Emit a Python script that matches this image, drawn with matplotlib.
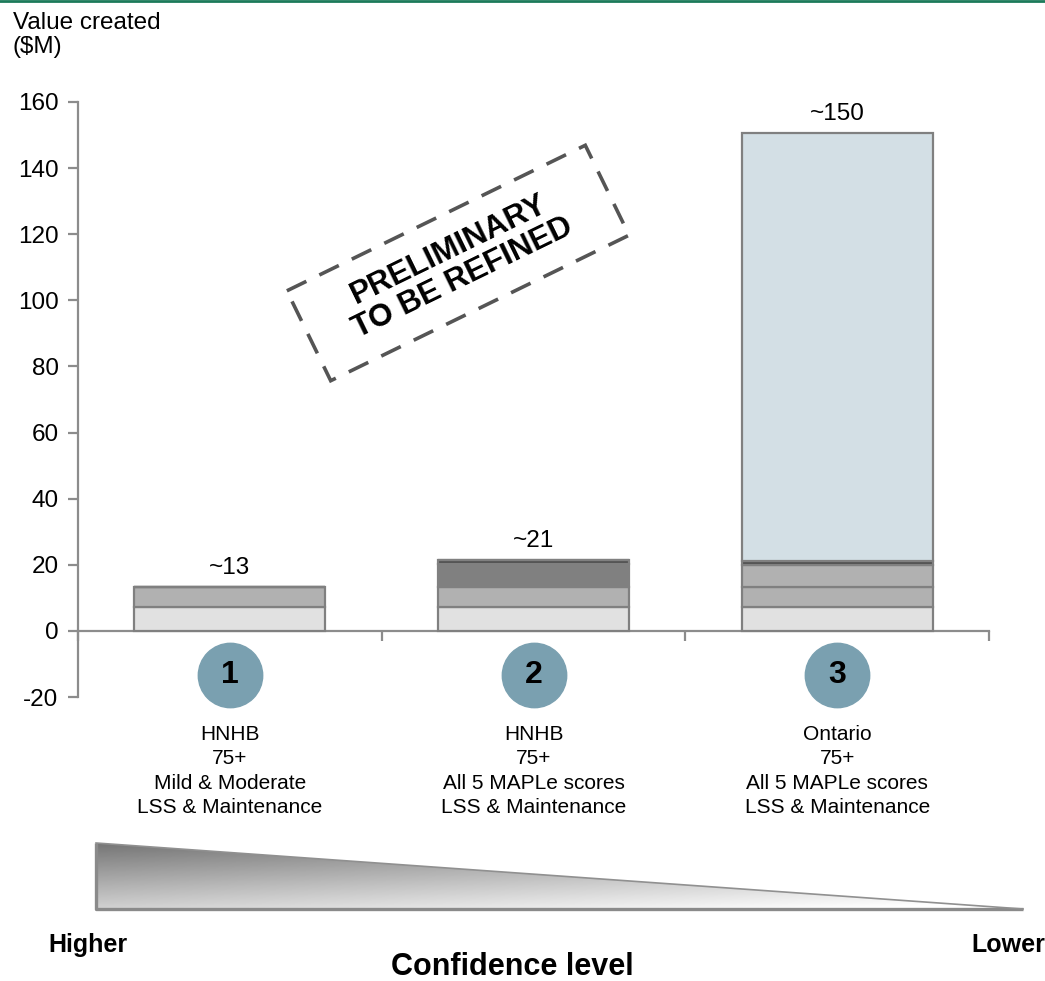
import numpy as np
import matplotlib
matplotlib.use("Agg")
import matplotlib.pyplot as plt
from matplotlib.patches import Polygon
from matplotlib.lines import Line2D

plt.rcParams["font.family"] = ["Liberation Sans", "DejaVu Sans"]
plt.rcParams["axes.unicode_minus"] = False

# ── data ─────────────────────────────────────────────
categories = ["1", "2", "3"]
cat_labels = [
    "HNHB\n75+\nMild & Moderate\nLSS & Maintenance",
    "HNHB\n75+\nAll 5 MAPLe scores\nLSS & Maintenance",
    "Ontario\n75+\nAll 5 MAPLe scores\nLSS & Maintenance",
]
seg_base = [7.2, 7.2, 7.2]
seg_second = [6.1, 6.0, 6.0]
seg_third = [0.0, 7.0, 6.6]
seg_dark = [0.0, 1.2, 1.2]
seg_rest = [0.0, 0.0, 129.6]
value_labels = ["~13", "~21", "~150"]

yticks = [-20, 0, 20, 40, 60, 80, 100, 120, 140, 160]

# ── colours ──────────────────────────────────────────
EDGE = "#808080"
C_BASE = "#e1e1e1"
C_SECOND = "#b1b1b1"
C_THIRD = ["#b1b1b1", "#808080", "#b1b1b1"]
C_DARK = "#505050"
C_REST = "#d3dfe5"
C_CIRCLE = "#7aa0b0"

W, H = 1045, 981
fig = plt.figure(figsize=(W / 100, H / 100), dpi=100)

ax = fig.add_axes([78 / W, 1 - 697 / H, (989 - 78) / W, 595 / H])
x = np.arange(len(categories))
bw = 0.63

bottom = np.zeros(len(x))
for vals, col in [(seg_base, C_BASE), (seg_second, C_SECOND),
                  (seg_third, C_THIRD), (seg_dark, C_DARK), (seg_rest, C_REST)]:
    vals = np.array(vals)
    ax.bar(x, vals, bw, bottom=bottom, color=col, edgecolor=EDGE,
           linewidth=1.6, zorder=3)
    bottom = bottom + vals

totals = bottom
for xi, tot, lab in zip(x, totals, value_labels):
    ax.annotate(lab, (xi, tot), xytext=(0, 6), textcoords="offset points",
                ha="center", va="bottom", fontsize=17.5)

# numbered circles + category text
ax.scatter(x, [-13.3] * len(x), s=2150, color=C_CIRCLE, clip_on=False, zorder=4)
for xi, num, lab in zip(x, categories, cat_labels):
    ax.text(xi, -13.3, num, ha="center", va="center", fontsize=23,
            fontweight="bold", zorder=5)
    ax.text(xi, -28.4, lab, ha="center", va="top", fontsize=15,
            linespacing=1.36, clip_on=False)

ax.set_xlim(-0.5, 2.5)
ax.set_ylim(-20, 160)
ax.set_yticks(yticks)
ax.set_xticks([-0.5, 0.5, 1.5, 2.5])
ax.set_xticklabels([])
for s in ["top", "right"]:
    ax.spines[s].set_visible(False)
ax.spines["bottom"].set_position(("data", 0))
for s in ["left", "bottom"]:
    ax.spines[s].set_color("#8c8c8c")
    ax.spines[s].set_linewidth(1.6)
    ax.spines[s].set_zorder(2)
ax.tick_params(axis="both", color="#8c8c8c", width=1.6, length=7,
               labelsize=17.5, pad=7)
ax.set_facecolor("none")

# ── overlay in pixel coordinates ─────────────────────
ov = fig.add_axes([0, 0, 1, 1], zorder=-1)
ov.axis("off")

# top green rule
fig.add_artist(Line2D([0, 1], [0.999, 0.999], color="#1c7a5a", lw=2))

fig.text(13 / W, 1 - 12 / H, "Value created\n($M)", ha="left", va="top",
         fontsize=17.5, linespacing=1.12)

# PRELIMINARY stamp
ov2 = fig.add_axes([0, 0, 1, 1], zorder=5)
ov2.set_xlim(0, W)
ov2.set_ylim(H, 0)
ov2.axis("off")
cx, cy, sw, sh, ang = 458, 263, 332, 100, 26
t = np.deg2rad(ang)
u = np.array([np.cos(t), -np.sin(t)])
v = np.array([np.sin(t), np.cos(t)])
c = np.array([cx, cy])
corners = [c - u * sw / 2 - v * sh / 2, c + u * sw / 2 - v * sh / 2,
           c + u * sw / 2 + v * sh / 2, c - u * sw / 2 + v * sh / 2]
ov2.add_patch(Polygon(corners, closed=True, fill=False, edgecolor="#555555",
                      lw=2.6, linestyle=(0, (6, 4))))
ov2.text(cx - 2, cy + 1, "PRELIMINARY\nTO BE REFINED", rotation=ang,
         rotation_mode="anchor", ha="center", va="center", fontsize=22.5,
         fontweight="bold", linespacing=1.05)

# confidence gradient triangle
tri = [(96, 843), (96, 909), (1023, 909)]
gx, gy = np.meshgrid(np.linspace(0, 1, 400), np.linspace(0, 1, 80))
grad = np.clip(0.46 + 0.36 * gy + 0.22 * gx, 0, 1)
im = ov.imshow(grad, cmap="gray", vmin=0, vmax=1, extent=(96, 1023, 909, 843),
               aspect="auto", interpolation="bilinear")
poly = Polygon(tri, closed=True, facecolor="none", edgecolor="none")
ov.add_patch(poly)
im.set_clip_path(poly)
ov.plot([96, 96, 1023], [843, 909, 909], color="#8a8a8a", lw=2.4,
        solid_capstyle="butt")
ov.plot([96, 1023], [843, 909], color="#909090", lw=1.2)
ov.set_xlim(0, W)
ov.set_ylim(H, 0)

fig.text(88 / W, 1 - 945 / H, "Higher", ha="center", va="center",
         fontsize=18, fontweight="bold")
fig.text(1008 / W, 1 - 945 / H, "Lower", ha="center", va="center",
         fontsize=18, fontweight="bold")
fig.text(512 / W, 1 - 967 / H, "Confidence level", ha="center", va="center",
         fontsize=22, fontweight="bold")

fig.savefig("out.png", dpi=100)
